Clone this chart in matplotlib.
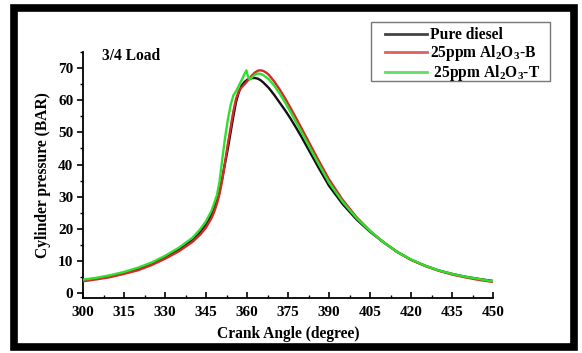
import numpy as np
import matplotlib.pyplot as plt
from matplotlib.patches import Rectangle
from matplotlib.ticker import MultipleLocator

plt.rcParams['font.family'] = 'Liberation Serif'
plt.rcParams['font.weight'] = 'bold'
plt.rcParams['mathtext.fontset'] = 'custom'
plt.rcParams['mathtext.rm'] = 'Liberation Serif:bold'
plt.rcParams['mathtext.it'] = 'Liberation Serif:bold'
plt.rcParams['mathtext.bf'] = 'Liberation Serif:bold'

# crank angle (deg) and cylinder pressure (bar) for each fuel
angle_diesel = [300, 305, 310, 315, 320, 325, 330, 335, 340, 343, 345, 347, 348, 349,
                350, 351, 352, 353, 354, 355, 356, 357, 358, 359, 360, 361, 362, 363,
                364, 365, 366, 368, 370, 372, 374, 376, 378, 380, 383, 386, 390, 395,
                400, 405, 410, 415, 420, 425, 430, 435, 440, 445, 450]
p_diesel = [4.0, 4.6, 5.3, 6.3, 7.5, 9.1, 11.2, 13.6, 16.6, 19.2, 21.4, 24.5, 26.5, 28.8,
            32.0, 36.0, 40.5, 45.0, 50.0, 55.0, 59.5, 62.5, 64.5, 65.6, 66.3, 66.7, 66.9, 66.9,
            66.7, 66.2, 65.5, 63.8, 61.6, 59.2, 56.8, 54.2, 51.4, 48.5, 43.9, 39.3, 33.4, 27.7,
            23.0, 19.1, 15.8, 12.8, 10.4, 8.6, 7.1, 6.0, 5.1, 4.4, 3.8]

angle_b = [300, 305, 310, 315, 320, 325, 330, 335, 340, 343, 345, 347, 348, 349,
           350, 351, 352, 353, 354, 355, 356, 357, 358, 359, 360, 361, 362, 363,
           364, 365, 366, 367, 368, 370, 372, 374, 376, 378, 380, 383, 386, 390, 395,
           400, 405, 410, 415, 420, 425, 430, 435, 440, 445, 450]
p_b = [3.7, 4.3, 5.0, 6.0, 7.1, 8.7, 10.7, 13.0, 15.9, 18.3, 20.4, 23.3, 25.3, 27.8,
       31.0, 35.5, 41.0, 46.5, 51.5, 56.5, 60.5, 62.8, 64.0, 64.9, 65.8, 66.9, 67.9, 68.7,
       69.2, 69.3, 69.1, 68.6, 67.9, 65.8, 63.3, 60.5, 57.5, 54.4, 51.2, 46.4, 41.6, 35.4, 29.0,
       23.7, 19.4, 15.8, 12.8, 10.4, 8.5, 7.0, 5.8, 4.9, 4.1, 3.5]

angle_t = [300, 305, 310, 315, 320, 325, 330, 335, 340, 343, 345, 347, 348, 349,
           350, 351, 352, 353, 354, 355, 356, 357, 358, 359, 359.8, 360.3, 361, 362, 363,
           364, 365, 366, 368, 370, 372, 374, 376, 378, 380, 383, 386, 390, 395,
           400, 405, 410, 415, 420, 425, 430, 435, 440, 445, 450]
p_t = [4.2, 4.8, 5.6, 6.6, 7.9, 9.5, 11.6, 14.1, 17.2, 20.0, 22.4, 25.6, 28.0, 30.5,
       35.0, 42.0, 48.5, 54.0, 58.5, 61.5, 62.8, 64.5, 66.2, 68.0, 69.3, 67.5, 66.4, 67.3, 68.0,
       68.3, 68.2, 67.8, 66.5, 64.5, 62.0, 59.2, 56.2, 53.1, 50.0, 45.2, 40.5, 34.4, 28.4,
       23.4, 19.3, 15.8, 12.8, 10.5, 8.6, 7.1, 6.0, 5.1, 4.4, 3.7]

labels = ['Pure diesel', r'25ppm Al$_2$O$_3$-B', r' 25ppm Al$_2$O$_3$-T']
colors = ['#111111', '#d42a2a', '#2ee02e']

fig = plt.figure(figsize=(5.82, 3.53), dpi=100)
ax = fig.add_axes([83 / 582, 1 - 298 / 353, 410 / 582, 246 / 353])

lines = []
for xs, ys, c, lab in zip([angle_diesel, angle_b, angle_t], [p_diesel, p_b, p_t], colors, labels):
    ln, = ax.plot(xs, ys, color=c, lw=1.7, label=lab, zorder=3)
    lines.append(ln)

ax.set_xlim(300, 450)
ax.set_ylim(-1.5, 75)
ax.xaxis.set_major_locator(MultipleLocator(15))
ax.xaxis.set_minor_locator(MultipleLocator(7.5))
ax.yaxis.set_major_locator(MultipleLocator(10))
ax.yaxis.set_minor_locator(MultipleLocator(5))
ax.set_yticks(np.arange(0, 71, 10))
ax.tick_params(axis='x', which='both', direction='in', labelsize=11, pad=6)
ax.tick_params(axis='x', which='major', length=4, width=1.2)
ax.tick_params(axis='x', which='minor', length=2.5, width=1)
ax.tick_params(axis='y', which='both', direction='out', labelsize=11, pad=3)
ax.tick_params(axis='y', which='major', length=4, width=1.2)
ax.tick_params(axis='y', which='minor', length=2.5, width=1)
for s in ['top', 'right']:
    ax.spines[s].set_visible(False)
for s in ['left', 'bottom']:
    ax.spines[s].set_linewidth(1.3)

ax.set_xlabel('Crank Angle (degree)', fontsize=11.2, fontweight='bold', labelpad=5)
ax.set_ylabel('Cylinder pressure (BAR)', fontsize=11.2, fontweight='bold', labelpad=5)
ax.text(0.046, 0.985, '3/4 Load', transform=ax.transAxes, fontsize=11.2,
        fontweight='bold', va='center', ha='left')

# legend entries without their own frame; box drawn separately so it can be wider than tall
leg = fig.legend(handles=lines, loc='upper left', bbox_to_anchor=(385 / 582, 1 - 27 / 353),
                 borderaxespad=0, fontsize=11.2, frameon=False,
                 handlelength=2.7, handletextpad=0.2, labelspacing=0.0, borderpad=0)
for h, c in zip(leg.legend_handles, ['#444444', '#e06060', '#60e060']):
    h.set_color(c)
    h.set_linewidth(2)
fig.patches.append(Rectangle((371 / 582, 1 - 81 / 353), 179 / 582, 59 / 353,
                             transform=fig.transFigure, fill=False, edgecolor='#777777',
                             lw=1.0))

# thick black frame round the whole figure
fig.patches.append(Rectangle((13.5 / 582, 1 - 347 / 353), 560.5 / 582, 339 / 353,
                             transform=fig.transFigure, fill=False, edgecolor='black',
                             lw=5.5, zorder=10))

fig.savefig('out.png', dpi=100)
